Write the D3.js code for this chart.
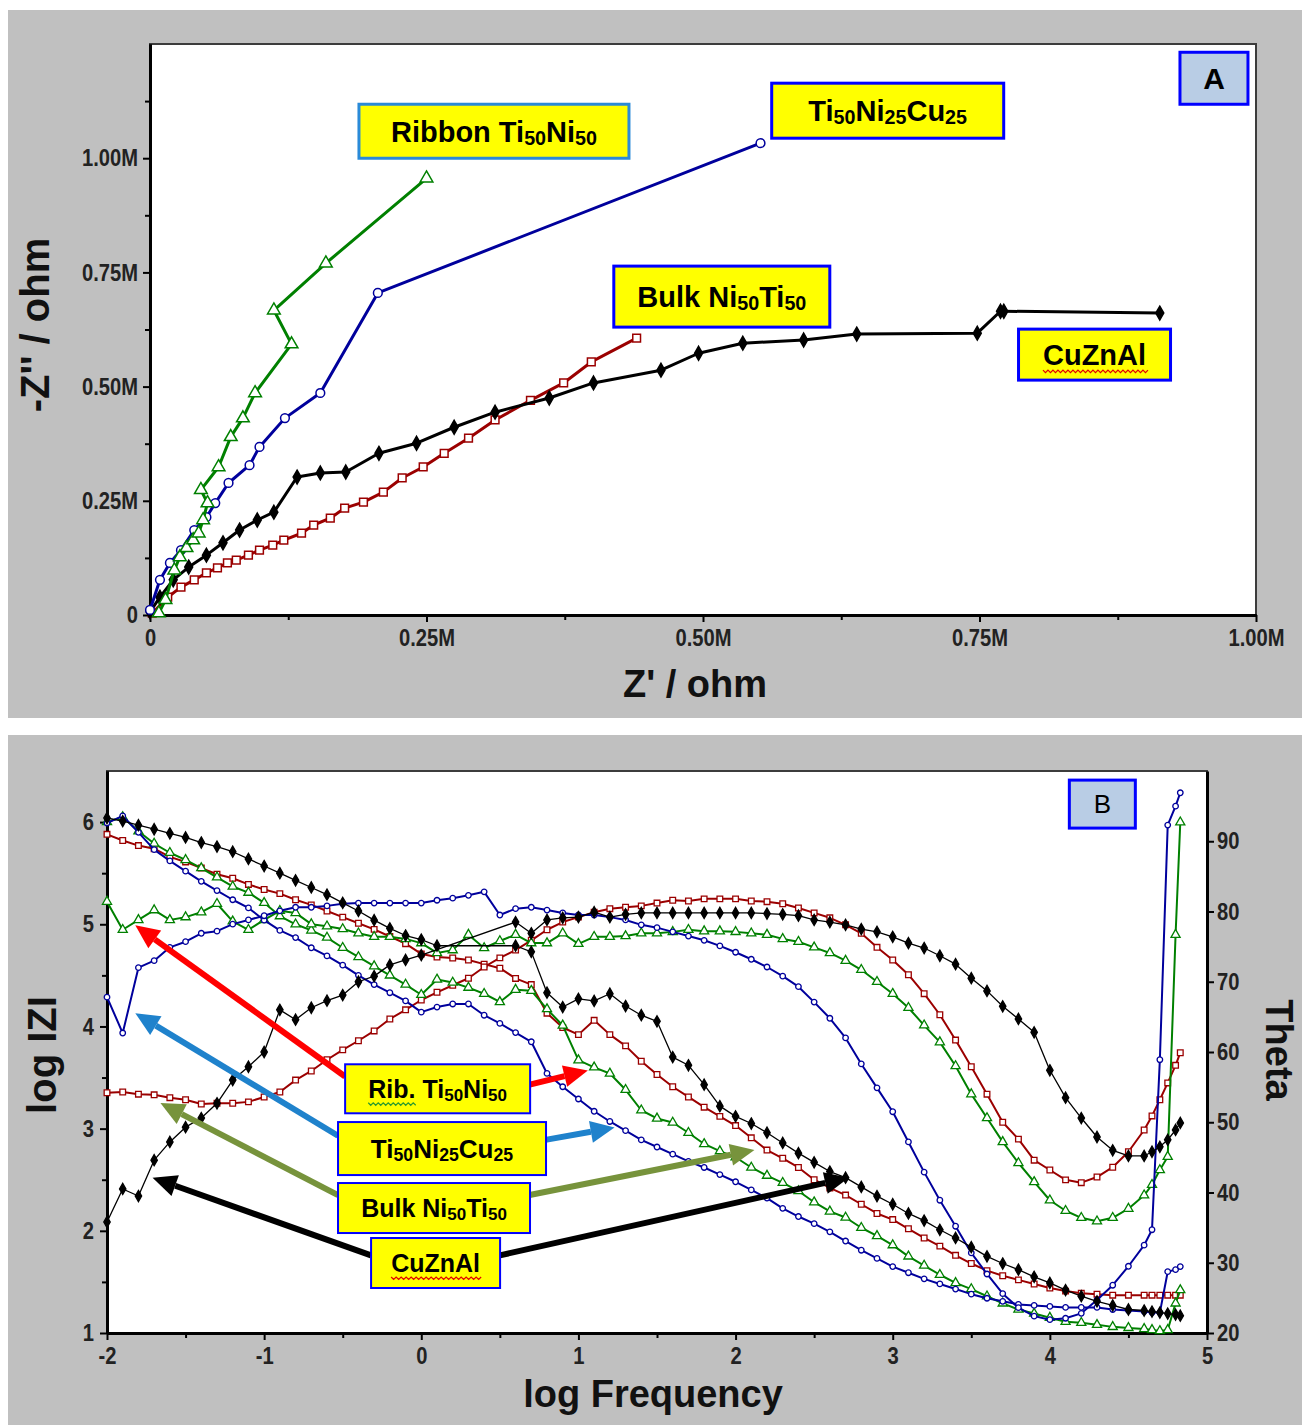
<!DOCTYPE html>
<html>
<head>
<meta charset="utf-8">
<script src="https://cdn.jsdelivr.net/npm/d3@7"></script>
<style>
  body { margin: 0; background: #fff; }
  svg text { font-family: "Liberation Sans", Arial, sans-serif; }
</style>
</head>
<body>
<svg id="chart" width="1302" height="1425"></svg>
<script>

// ---------- panel A : Nyquist, values in M ohm ----------
var zTicks = [0, 0.25, 0.5, 0.75, 1.0]
var zMinorX = [0.125, 0.375, 0.625, 0.875]
var zMinorY = [0.125, 0.375, 0.625, 0.875, 1.125]

var ribbonRe = [0.008,0.014,0.022,0.027,0.033,0.039,0.044,0.048,0.052,0.046,0.062,0.073,0.084,0.095,0.128,0.112,0.159,0.250]
var ribbonIm = [0.004,0.033,0.098,0.127,0.147,0.164,0.179,0.208,0.245,0.274,0.324,0.390,0.431,0.486,0.593,0.667,0.770,0.956]

var ticuRe = [0.000,0.009,0.018,0.028,0.040,0.051,0.059,0.071,0.090,0.099,0.122,0.154,0.206,0.552]
var ticuIm = [0.011,0.077,0.114,0.142,0.186,0.214,0.245,0.289,0.328,0.368,0.431,0.486,0.705,1.033]

var bulkRe = [0.002,0.016,0.028,0.040,0.051,0.061,0.070,0.078,0.089,0.099,0.111,0.121,0.137,0.148,0.163,0.176,0.193,0.211,0.228,0.247,0.266,0.288,0.312,0.344,0.374,0.399,0.440]
var bulkIm = [0.004,0.039,0.061,0.077,0.092,0.103,0.114,0.120,0.131,0.142,0.153,0.164,0.179,0.197,0.212,0.234,0.247,0.269,0.300,0.324,0.354,0.387,0.427,0.470,0.508,0.554,0.606]

var cuRe = [0.000,0.009,0.021,0.035,0.051,0.066,0.081,0.097,0.112,0.133,0.154,0.177,0.207,0.241,0.275,0.312,0.361,0.401,0.462,0.496,0.536,0.591,0.639,0.748,0.769,0.772,0.913]
var cuIm = [0.007,0.039,0.077,0.105,0.131,0.158,0.186,0.208,0.225,0.302,0.311,0.313,0.354,0.376,0.411,0.444,0.475,0.508,0.536,0.573,0.595,0.602,0.615,0.617,0.665,0.665,0.661]

// ---------- panel B : Bode ----------
var freqTicks = [-2, -1, 0, 1, 2, 3, 4, 5]
var freqMinor = [-1.5, -0.5, 0.5, 1.5, 2.5, 3.5, 4.5]
var logzTicks = [1, 2, 3, 4, 5, 6]
var logzMinor = [1.5, 2.5, 3.5, 4.5, 5.5]
var thetaTicks = [20, 30, 40, 50, 60, 70, 80, 90]

var logFreq = [-2.0,-1.9,-1.8,-1.7,-1.6,-1.5,-1.4,-1.3,-1.2,-1.1,
  -1.0,-0.9,-0.8,-0.7,-0.6,-0.5,-0.4,-0.3,-0.2,-0.1,
  0.0,0.1,0.2,0.3,0.4,0.5,0.6,0.7,0.8,0.9,
  1.0,1.1,1.2,1.3,1.4,1.5,1.6,1.7,1.8,1.9,
  2.0,2.1,2.2,2.3,2.4,2.5,2.6,2.7,2.8,2.9,
  3.0,3.1,3.2,3.3,3.4,3.5,3.6,3.7,3.8,3.9,
  4.0,4.1,4.2,4.3,4.4,4.5,4.6,4.65,4.7,4.75,4.8,4.83]

var cuLogZ = [6.04,6.01,5.97,5.93,5.89,5.85,5.80,5.76,5.71,5.64,
  5.57,5.50,5.43,5.36,5.29,5.21,5.13,5.04,4.96,4.89,
  4.85,4.79,null,null,null,null,4.79,4.73,4.33,4.19,
  4.27,4.25,4.32,4.20,4.11,4.05,3.70,3.62,3.43,3.22,
  3.12,3.05,2.96,2.86,2.76,2.67,2.58,2.52,2.43,2.34,
  2.26,2.17,2.10,2.01,1.93,1.84,1.75,1.68,1.62,1.55,
  1.49,1.42,1.36,1.31,1.27,1.23,1.22,1.21,1.20,1.19,1.18,1.17]
var cuTheta = [35.8,40.5,39.5,44.6,47.2,49.3,50.6,52.7,56.0,57.9,
  60.0,66.0,64.6,66.3,67.3,68.1,70.0,70.8,72.4,73.1,
  73.8,null,null,null,null,null,78.5,76.9,78.8,79.1,
  79.2,79.9,79.2,79.6,79.8,79.8,79.8,79.8,79.8,79.8,
  79.8,79.8,79.7,79.6,79.4,78.8,78.5,78.1,77.5,77.1,
  76.4,75.5,74.8,73.7,72.5,70.5,68.7,66.5,64.7,62.8,
  57.4,53.5,50.6,47.9,46.0,45.2,45.2,45.8,46.5,47.5,48.9,49.9]

var bulkLogZ = [5.88,5.82,5.77,5.74,5.66,5.61,5.55,5.49,5.45,5.39,
  5.34,5.30,5.24,5.19,5.13,5.07,5.01,4.95,4.88,4.81,
  4.71,4.68,4.67,4.65,4.61,4.57,4.47,4.41,4.13,3.99,
  3.92,4.06,3.92,3.81,3.66,3.53,3.41,3.31,3.21,3.12,
  3.03,2.91,2.79,2.71,2.62,2.50,2.42,2.35,2.26,2.17,
  2.11,2.02,1.93,1.85,1.76,1.68,1.61,1.56,1.52,1.48,
  1.44,1.41,1.39,1.38,1.37,1.37,1.37,1.37,1.37,1.37,1.37,1.37]
var bulkTheta = [54.2,54.3,54.0,53.9,53.5,53.2,52.6,52.7,52.7,52.9,
  53.6,54.3,56.0,57.3,58.9,60.3,61.6,63.0,64.7,66.0,
  67.4,68.5,69.5,70.5,72.1,73.4,74.5,75.9,77.4,78.5,
  79.2,79.9,80.4,80.6,80.8,81.2,81.6,81.5,81.8,81.8,
  81.8,81.5,81.4,81.1,80.5,79.8,79.1,78.1,76.9,74.9,
  73.1,71.0,68.3,65.3,61.7,57.9,54.0,50.0,47.6,44.6,
  43.2,41.8,41.4,42.2,43.6,45.8,48.9,50.9,53.2,55.6,58.1,59.9]

var ticuLogZ = [5.99,6.06,5.90,5.73,5.62,5.52,5.42,5.33,5.24,5.16,
  5.04,4.94,4.87,4.77,4.69,4.60,4.50,4.41,4.33,4.25,
  4.14,4.19,4.22,4.22,4.11,4.03,3.94,3.85,3.54,3.41,
  3.29,3.17,3.07,2.98,2.89,2.82,2.75,2.68,2.62,2.55,
  2.48,2.40,2.32,2.22,2.14,2.07,1.99,1.90,1.81,1.73,
  1.65,1.59,1.53,1.48,1.43,1.38,1.34,1.31,1.28,1.27,
  1.26,1.25,1.25,1.25,1.23,1.22,1.21,1.20,1.20,1.60,1.62,1.65]
var ticuTheta = [67.8,62.7,72.0,73.0,74.9,75.7,76.9,77.2,78.2,78.8,
  79.4,80.1,80.6,80.6,80.8,81.1,81.2,81.2,81.2,81.2,
  81.2,81.6,81.9,82.3,82.8,79.5,80.4,80.6,80.2,79.8,
  79.5,79.5,79.2,78.8,78.1,77.7,77.1,76.5,75.9,75.1,
  74.2,73.2,72.1,70.8,69.3,67.1,64.8,62.0,58.3,54.9,
  51.5,47.2,42.9,38.9,35.2,31.4,28.4,25.6,23.6,22.4,
  21.9,22.1,22.8,24.7,26.8,29.5,32.5,34.7,58.9,92.3,95.0,96.9]

var ribbonLogZ = [6.00,6.05,5.91,5.79,5.70,5.63,5.55,5.46,5.37,5.31,
  5.21,5.08,5.00,4.94,4.87,4.77,4.68,4.59,4.50,4.41,
  4.31,4.46,4.43,4.38,4.32,4.24,4.36,4.35,4.17,4.01,
  3.67,3.60,3.54,3.38,3.18,3.10,3.06,2.96,2.85,2.78,
  2.72,2.62,2.54,2.47,2.39,2.28,2.19,2.13,2.03,1.95,
  1.86,1.75,1.66,1.57,1.49,1.43,1.36,1.29,1.23,1.19,
  1.15,1.11,1.10,1.08,1.06,1.05,1.04,1.03,1.02,1.03,1.29,1.42]
var ribbonTheta = [81.4,77.4,78.8,80.2,78.8,79.2,79.9,81.1,78.6,77.4,
  78.8,80.1,79.8,78.2,77.9,77.5,76.9,76.4,76.4,76.1,
  75.5,74.1,74.5,76.7,74.8,75.8,76.7,75.5,75.5,76.9,
  75.4,76.4,76.4,76.5,76.9,76.9,77.1,77.4,77.2,77.2,
  77.1,76.9,76.7,76.1,75.7,74.9,74.1,73.0,71.7,70.0,
  68.3,66.3,63.8,61.4,58.0,54.0,50.6,47.2,44.2,41.5,
  38.9,37.4,36.4,35.9,36.4,37.7,39.6,41.1,43.2,45.1,76.7,92.7]

var cGreen = "#008000", cBlue = "#00009c", cRed = "#9b0000", cBlack = "#000000"

var svg = d3.select("#chart")

// grey panel backgrounds
svg.append("rect").attr("x", 8).attr("y", 10).attr("width", 1294).attr("height", 708).attr("fill", "#c0c0c0")
svg.append("rect").attr("x", 8).attr("y", 735).attr("width", 1294).attr("height", 690).attr("fill", "#c0c0c0")

function styleAxis(g) {
  g.select(".domain").attr("stroke", "#000").attr("stroke-width", 3)
  g.selectAll(".tick line").attr("stroke", "#000").attr("stroke-width", 2)
  // narrow, tall tick labels like the original plotting program
  g.selectAll(".tick text").attr("font-size", 24).attr("font-weight", "bold").attr("fill", "#222")
    .each(function() {
      var L = this.getComputedTextLength()
      if (L > 0) d3.select(this).attr("textLength", L * 0.84).attr("lengthAdjust", "spacingAndGlyphs")
    })
  return g
}

function labelBox(cx, cy, w, h, parts, o) {
  var g = svg.append("g")
  g.append("rect").attr("x", cx - w / 2).attr("y", cy - h / 2).attr("width", w).attr("height", h)
    .attr("fill", o.fill || "#ffff00").attr("stroke", o.stroke || "#0000ff").attr("stroke-width", o.sw || 3)
  var t = g.append("text").attr("x", cx).attr("y", cy + o.fs * 0.36).attr("text-anchor", "middle")
    .attr("font-size", o.fs).attr("font-weight", o.weight || "bold").attr("fill", "#000")
  var shift = 0
  parts.forEach(function(p) {
    var s = p[1] ? o.sub : 0
    t.append("tspan").attr("dy", s - shift).attr("font-size", p[1] ? o.fs * 0.68 : o.fs).text(p[0])
    shift = s
  })
  if (o.wavy) {
    var n = t.node()
    var x0 = n.getStartPositionOfChar(o.wavy[0]).x
    var x1 = n.getEndPositionOfChar(o.wavy[1]).x
    var yw = cy + o.fs * 0.36 + 5, d = "M" + x0 + "," + yw
    for (var x = x0, k = 0; x < x1; x += 2.5, k++) d += "L" + (x + 2.5) + "," + (yw + (k % 2 ? 0 : 2.5))
    g.append("path").attr("d", d).attr("fill", "none").attr("stroke", o.wavyColor).attr("stroke-width", 1.2)
  }
}

// ================= PANEL A =================
var xA = d3.scaleLinear().domain([0, 1]).range([150, 1256])
var yA = d3.scaleLinear().domain([0, 1.25]).range([615, 44])

svg.append("rect").attr("x", xA(0)).attr("y", yA(1.25)).attr("width", xA(1) - xA(0)).attr("height", yA(0) - yA(1.25))
  .attr("fill", "#fff").attr("stroke", "#3c3c3c").attr("stroke-width", 2)

var fmtM = d => d == 0 ? "0" : d3.format(".2f")(d) + "M"
var fmtInt = d => String(d)

styleAxis(svg.append("g").attr("transform", `translate(0,${yA(0)})`)
  .call(d3.axisBottom(xA).tickValues(zTicks).tickFormat(fmtM).tickSize(7).tickSizeOuter(0).tickPadding(7)))
styleAxis(svg.append("g").attr("transform", `translate(0,${yA(0)})`)
  .call(d3.axisBottom(xA).tickValues(zMinorX).tickFormat("").tickSize(5).tickSizeOuter(0)))
styleAxis(svg.append("g").attr("transform", `translate(${xA(0)},0)`)
  .call(d3.axisLeft(yA).tickValues(zTicks).tickFormat(fmtM).tickSize(7).tickSizeOuter(0).tickPadding(5)))
styleAxis(svg.append("g").attr("transform", `translate(${xA(0)},0)`)
  .call(d3.axisLeft(yA).tickValues(zMinorY).tickFormat("").tickSize(5).tickSizeOuter(0)))

svg.append("text").attr("x", 695).attr("y", 697).attr("text-anchor", "middle")
  .attr("font-size", 38).attr("font-weight", "bold").attr("fill", "#111").text("Z' / ohm")
svg.append("text").attr("transform", "translate(49,325) rotate(-90)").attr("text-anchor", "middle")
  .attr("font-size", 40).attr("font-weight", "bold").attr("fill", "#111").text("-Z'' / ohm")

function drawNyquist(re, im, color, sym, size, filled) {
  var pts = re.map((r, i) => [r, im[i]])
  svg.append("path").datum(pts).attr("fill", "none").attr("stroke", color).attr("stroke-width", 3)
    .attr("stroke-linejoin", "round")
    .attr("d", d3.line().x(d => xA(d[0])).y(d => yA(d[1])))
  svg.append("g").selectAll("path").data(pts).enter().append("path")
    .attr("transform", d => `translate(${xA(d[0])},${yA(d[1])})`)
    .attr("d", d3.symbol().type(sym).size(size))
    .attr("fill", filled ? color : "#fff").attr("stroke", color).attr("stroke-width", 1.5)
}

drawNyquist(bulkRe, bulkIm, cRed, d3.symbolSquare, 60, false)
drawNyquist(cuRe, cuIm, cBlack, d3.symbolDiamond, 55, true)
drawNyquist(ticuRe, ticuIm, cBlue, d3.symbolCircle, 60, false)
drawNyquist(ribbonRe, ribbonIm, cGreen, d3.symbolTriangle, 70, false)

labelBox(xA(0.311), yA(1.059), 270, 54, [["Ribbon Ti", 0], ["50", 1], ["Ni", 0], ["50", 1]], { fs: 29, sub: 3, stroke: "#2a8ad8" })
labelBox(xA(0.667), yA(1.104), 232, 55, [["Ti", 0], ["50", 1], ["Ni", 0], ["25", 1], ["Cu", 0], ["25", 1]], { fs: 29, sub: 3 })
labelBox(xA(0.517), yA(0.697), 216, 61, [["Bulk Ni", 0], ["50", 1], ["Ti", 0], ["50", 1]], { fs: 29, sub: 3 })
labelBox(xA(0.854), yA(0.570), 152, 51, [["CuZnAl", 0]], { fs: 29, sub: 3, wavy: [0, 5], wavyColor: "#e00000" })
labelBox(xA(0.962), yA(1.175), 68, 52, [["A", 0]], { fs: 30, sub: 0, fill: "#b9cde5" })

// ================= PANEL B =================
var xB = d3.scaleLinear().domain([-2, 5]).range([107, 1207])
var yZ = d3.scaleLinear().domain([1, 6.5]).range([1333, 771])
var yT = d3.scaleLinear().domain([20, 100]).range([1333, 771])

svg.append("rect").attr("x", xB(-2)).attr("y", yZ(6.5)).attr("width", xB(5) - xB(-2)).attr("height", yZ(1) - yZ(6.5))
  .attr("fill", "#fff").attr("stroke", "#3c3c3c").attr("stroke-width", 2)

styleAxis(svg.append("g").attr("transform", `translate(0,${yZ(1)})`)
  .call(d3.axisBottom(xB).tickValues(freqTicks).tickFormat(fmtInt).tickSize(7).tickSizeOuter(0).tickPadding(7)))
styleAxis(svg.append("g").attr("transform", `translate(0,${yZ(1)})`)
  .call(d3.axisBottom(xB).tickValues(freqMinor).tickFormat("").tickSize(5).tickSizeOuter(0)))
styleAxis(svg.append("g").attr("transform", `translate(${xB(-2)},0)`)
  .call(d3.axisLeft(yZ).tickValues(logzTicks).tickFormat(fmtInt).tickSize(7).tickSizeOuter(0).tickPadding(6)))
styleAxis(svg.append("g").attr("transform", `translate(${xB(-2)},0)`)
  .call(d3.axisLeft(yZ).tickValues(logzMinor).tickFormat("").tickSize(5).tickSizeOuter(0)))
styleAxis(svg.append("g").attr("transform", `translate(${xB(5)},0)`)
  .call(d3.axisRight(yT).tickValues(thetaTicks).tickFormat(fmtInt).tickSize(7).tickSizeOuter(0).tickPadding(3)))

svg.append("text").attr("x", 653).attr("y", 1407).attr("text-anchor", "middle")
  .attr("font-size", 38).attr("font-weight", "bold").attr("fill", "#111").text("log Frequency")
svg.append("text").attr("transform", "translate(56,1055) rotate(-90)").attr("text-anchor", "middle")
  .attr("font-size", 40).attr("font-weight", "bold").attr("fill", "#111").text("log IZI")
svg.append("text").attr("transform", "translate(1266,1050) rotate(90)").attr("text-anchor", "middle")
  .attr("font-size", 38).attr("font-weight", "bold").attr("fill", "#111").text("Theta")

function drawBode(vals, yScale, color, sym, size, filled, lw) {
  var pts = logFreq.map((f, i) => [f, vals[i]]).filter(p => p[1] != null)
  svg.append("path").datum(pts).attr("fill", "none").attr("stroke", color).attr("stroke-width", lw)
    .attr("stroke-linejoin", "round")
    .attr("d", d3.line().x(d => xB(d[0])).y(d => yScale(d[1])))
  svg.append("g").selectAll("path").data(pts).enter().append("path")
    .attr("transform", d => `translate(${xB(d[0])},${yScale(d[1])})`)
    .attr("d", d3.symbol().type(sym).size(size))
    .attr("fill", filled ? color : "#fff").attr("stroke", color).attr("stroke-width", 1.3)
}

drawBode(bulkLogZ, yZ, cRed, d3.symbolSquare, 32, false, 2)
drawBode(bulkTheta, yT, cRed, d3.symbolSquare, 32, false, 2)
drawBode(ribbonLogZ, yZ, cGreen, d3.symbolTriangle, 36, false, 2)
drawBode(ribbonTheta, yT, cGreen, d3.symbolTriangle, 36, false, 2)
drawBode(ticuLogZ, yZ, cBlue, d3.symbolCircle, 24, false, 2)
drawBode(ticuTheta, yT, cBlue, d3.symbolCircle, 24, false, 2)
drawBode(cuLogZ, yZ, cBlack, d3.symbolDiamond, 36, true, 1.3)
drawBode(cuTheta, yT, cBlack, d3.symbolDiamond, 36, true, 1.3)

// annotation arrows (log f, log|Z|)
function arrow(x1, y1, x2, y2, color) {
  var px1 = xB(x1), py1 = yZ(y1), px2 = xB(x2), py2 = yZ(y2)
  var a = Math.atan2(py2 - py1, px2 - px1), head = 24, hw = 11
  var bx = px2 - head * Math.cos(a), by = py2 - head * Math.sin(a)
  svg.append("line").attr("x1", px1).attr("y1", py1).attr("x2", bx).attr("y2", by)
    .attr("stroke", color).attr("stroke-width", 6)
  svg.append("polygon").attr("fill", color).attr("points", [
    [px2, py2], [bx - hw * Math.sin(a), by + hw * Math.cos(a)], [bx + hw * Math.sin(a), by - hw * Math.cos(a)]
  ].map(p => p.join(",")).join(" "))
}
arrow(-0.485, 3.51, -1.82, 4.99, "#ff0000")
arrow(0.69, 3.43, 1.06, 3.57, "#ff0000")
arrow(-0.53, 2.93, -1.82, 4.13, "#1f82cc")
arrow(0.79, 2.89, 1.23, 3.01, "#1f82cc")
arrow(-0.53, 2.35, -1.66, 3.25, "#77933c")
arrow(0.69, 2.35, 2.12, 2.79, "#77933c")
arrow(-0.32, 1.76, -1.71, 2.52, "#000000")
arrow(0.50, 1.76, 2.72, 2.52, "#000000")

labelBox(xB(0.104), yZ(3.39), 185, 49, [["Rib. Ti", 0], ["50", 1], ["Ni", 0], ["50", 1]], { fs: 25, sub: 3, sw: 2, wavy: [0, 3], wavyColor: "#2e9a2e" })
labelBox(xB(0.132), yZ(2.805), 208, 53, [["Ti", 0], ["50", 1], ["Ni", 0], ["25", 1], ["Cu", 0], ["25", 1]], { fs: 26, sub: 3, sw: 2 })
labelBox(xB(0.081), yZ(2.223), 192, 50, [["Bulk Ni", 0], ["50", 1], ["Ti", 0], ["50", 1]], { fs: 25, sub: 3, sw: 2 })
labelBox(xB(0.091), yZ(1.685), 129, 50, [["CuZnAl", 0]], { fs: 25, sub: 3, sw: 2, wavy: [0, 5], wavyColor: "#e00000" })
labelBox(xB(4.334), yZ(6.176), 66, 48, [["B", 0]], { fs: 26, sub: 0, sw: 3, weight: "normal", fill: "#b9cde5" })

</script>
</body>
</html>
